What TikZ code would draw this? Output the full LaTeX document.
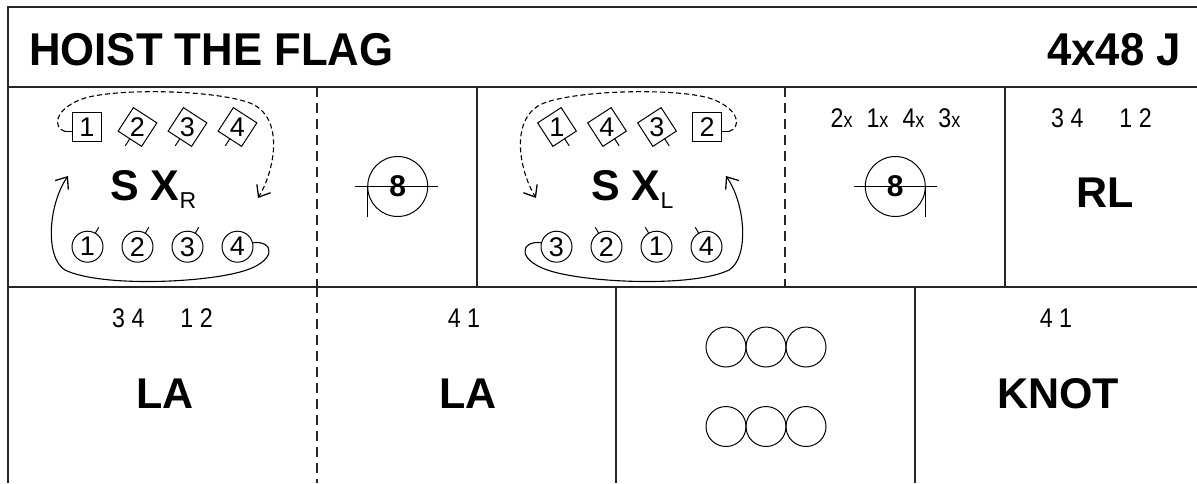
\documentclass[tikz,border=0pt]{standalone}
\usepackage{fontspec}
\setmainfont{Liberation Sans}
\newfontfamily\narrowfont[FakeStretch=0.86]{Liberation Sans}
\newfontfamily\titlefont[FakeStretch=0.95]{Liberation Sans}
\usetikzlibrary{arrows.meta,calc}
\begin{document}
\begin{tikzpicture}[x=1pt,y=-1pt,
  border/.style={line width=2pt,draw=black!85},
  sepline/.style={line width=1.5pt,draw=black!85},
  dsep/.style={sepline,dash pattern=on 10pt off 6pt},
  biglabel/.style={inner sep=0pt,font=\fontsize{43}{43}\selectfont\bfseries},
  countnum/.style={inner sep=0pt,font=\narrowfont\fontsize{27}{27}\selectfont},
  dignum/.style={inner sep=0pt,font=\fontsize{27}{27}\selectfont},
  man/.style={draw,line width=1pt,minimum size=29.5pt,inner sep=0pt,outer sep=0pt},
  tilt/.style={draw,line width=1pt,minimum size=28pt,inner sep=0pt,outer sep=0pt},
  lady/.style={circle,draw,line width=1pt,minimum size=31pt,inner sep=0pt,outer sep=0pt},
  tickline/.style={line width=1pt},
  dasharrow/.style={line width=1.1pt,dash pattern=on 5pt off 3pt,-{Straight Barb[length=10pt,width=16pt,line width=1.3pt]}},
  solidarrow/.style={line width=1.1pt,-{Straight Barb[length=10pt,width=16pt,line width=1.3pt]}},
  setc/.style={circle,draw,line width=1pt,minimum size=40pt,inner sep=0pt},
  reel/.style={circle,draw,line width=1pt,minimum size=60pt,inner sep=0pt,outer sep=0pt},
  eight/.style={inner sep=0pt,font=\fontsize{30}{30}\selectfont\bfseries},
]
\useasboundingbox (0,0) rectangle (1197,483);
\fill[white] (0,0) rectangle (1197,483);

% frame
\coordinate (tl) at (8,7);
\coordinate (tr) at (1197,7);
\coordinate (bl) at (8,483);
\draw[border] (bl) -- (tl) -- (tr);
\coordinate (h1a) at (8,87);   \coordinate (h1b) at (1197,87);
\coordinate (h2a) at (8,287);  \coordinate (h2b) at (1197,287);
\draw[border] (h1a) -- (h1b);
\draw[border] (h2a) -- (h2b);
% row 2 separators
\coordinate (v1a) at (317,87);  \coordinate (v1b) at (317,287);
\coordinate (v2a) at (477,87);  \coordinate (v2b) at (477,287);
\coordinate (v3a) at (785,87);  \coordinate (v3b) at (785,287);
\coordinate (v4a) at (1005,87); \coordinate (v4b) at (1005,287);
\draw[dsep] (v1a) -- (v1b);
\draw[sepline] (v2a) -- (v2b);
\draw[dsep] (v3a) -- (v3b);
\draw[sepline] (v4a) -- (v4b);
% row 3 separators
\coordinate (w1a) at (317,287); \coordinate (w1b) at (317,483);
\coordinate (w2a) at (616,287); \coordinate (w2b) at (616,483);
\coordinate (w3a) at (915,287); \coordinate (w3b) at (915,483);
\draw[dsep] (w1a) -- (w1b);
\draw[sepline] (w2a) -- (w2b);
\draw[sepline] (w3a) -- (w3b);

% title
\node[anchor=base west,inner sep=0pt,font=\titlefont\fontsize{46}{46}\selectfont\bfseries] (title) at (29,65) {HOIST THE FLAG};
\node[anchor=base east,inner sep=0pt,font=\titlefont\fontsize{46}{46}\selectfont\bfseries] (form) at (1181,65) {4x48 J};

% ---------- cell 1: S X_R ----------
\node[man,dignum] (a1) at (87,127) {1};
\node[tilt,rotate=-33] (a2) at (137.5,127) {};
\node[dignum] (a2t) at (a2.center) {2};
\node[tilt,rotate=-33] (a3) at (187.5,127) {};
\node[dignum] (a3t) at (a3.center) {3};
\node[tilt,rotate=-33] (a4) at (237.5,127) {};
\node[dignum] (a4t) at (a4.center) {4};
\coordinate (a1t0) at ($(a1.west)+(0,4.5)$);
\coordinate (a1t1) at ($(a1.west)+(-7,4.5)$);
\draw[tickline] (a1t0) -- (a1t1);
\draw[tickline] (a2.south) -- ($(a2.center)!1.6!(a2.south)$);
\draw[tickline] (a3.south) -- ($(a3.center)!1.6!(a3.south)$);
\draw[tickline] (a4.south) -- ($(a4.center)!1.6!(a4.south)$);
\coordinate (d1e) at (258,198);
\draw[dasharrow] (a1t1) .. controls (52,128) and (54,108) .. (85,98)
   .. controls (120,88) and (215,90) .. (250,103)
   .. controls (285,117) and (275,170) .. (d1e);

\node[lady,dignum] (b1) at (87.5,246.7) {1};
\node[lady,dignum] (b2) at (137.5,246.7) {2};
\node[lady,dignum] (b3) at (187.5,246.7) {3};
\node[lady,dignum] (b4) at (237.5,246.7) {4};
\draw[tickline] (b1.60) -- ($(b1.center)!1.45!(b1.60)$);
\draw[tickline] (b2.60) -- ($(b2.center)!1.45!(b2.60)$);
\draw[tickline] (b3.60) -- ($(b3.center)!1.45!(b3.60)$);
\coordinate (s1e) at (68,176);
\draw[solidarrow] (b4.15) .. controls (275,240) and (278,262) .. (240,272)
   .. controls (200,283) and (100,287) .. (65,270)
   .. controls (45,258) and (48,205) .. (s1e);

\node[biglabel,anchor=base west] (sxr) at (110,200) {S X\raisebox{-8pt}{\fontsize{23}{23}\selectfont\mdseries R}};

% ---------- cell 2: reel ----------
\node[reel] (r1) at (397.7,186.5) {};
\node[eight] (r1t) at (r1.center) {8};
\draw[tickline] ($(r1.center)+(-43,0)$) -- ($(r1.center)+(40,0)$);
\draw[tickline] (r1.west) -- ($(r1.west)+(0,30)$);

% ---------- cell 3: S X_L ----------
\node[tilt,rotate=33] (c1) at (557,127) {};
\node[dignum] (c1t) at (c1.center) {1};
\node[tilt,rotate=33] (c4) at (607,127) {};
\node[dignum] (c4t) at (c4.center) {4};
\node[tilt,rotate=33] (c3) at (657,127) {};
\node[dignum] (c3t) at (c3.center) {3};
\node[man,dignum] (c2) at (707,127) {2};
\draw[tickline] (c1.south) -- ($(c1.center)!1.6!(c1.south)$);
\draw[tickline] (c4.south) -- ($(c4.center)!1.6!(c4.south)$);
\draw[tickline] (c3.south) -- ($(c3.center)!1.6!(c3.south)$);
\coordinate (c2t0) at ($(c2.east)+(0,4.5)$);
\coordinate (c2t1) at ($(c2.east)+(7,4.5)$);
\draw[tickline] (c2t0) -- (c2t1);
\coordinate (d2e) at (536,198);
\draw[dasharrow] (c2t1) .. controls (742,128) and (740,108) .. (709,98)
   .. controls (674,88) and (579,90) .. (544,103)
   .. controls (509,117) and (519,170) .. (d2e);

\node[lady,dignum] (e3) at (556.5,246.7) {3};
\node[lady,dignum] (e2) at (606.5,246.7) {2};
\node[lady,dignum] (e1) at (656.5,246.7) {1};
\node[lady,dignum] (e4) at (706.5,246.7) {4};
\draw[tickline] (e2.120) -- ($(e2.center)!1.45!(e2.120)$);
\draw[tickline] (e1.120) -- ($(e1.center)!1.45!(e1.120)$);
\draw[tickline] (e4.120) -- ($(e4.center)!1.45!(e4.120)$);
\coordinate (s2e) at (726,176);
\draw[solidarrow] (e3.165) .. controls (519,240) and (516,262) .. (554,272)
   .. controls (594,283) and (694,287) .. (729,270)
   .. controls (749,258) and (746,205) .. (s2e);

\node[biglabel,anchor=base west] (sxl) at (591,200) {S X\raisebox{-8pt}{\fontsize{23}{23}\selectfont\mdseries L}};

% ---------- cell 4: reel with order ----------
\node[countnum,anchor=base] (ord) at (895.5,127) {2{\fontsize{21}{21}\selectfont x}\hspace{14pt}1{\fontsize{21}{21}\selectfont x}\hspace{14pt}4{\fontsize{21}{21}\selectfont x}\hspace{14pt}3{\fontsize{21}{21}\selectfont x}};
\node[reel] (r2) at (895.3,186.5) {};
\node[eight] (r2t) at (r2.center) {8};
\draw[tickline] ($(r2.center)+(-41,0)$) -- ($(r2.center)+(41.5,0)$);
\draw[tickline] (r2.east) -- ($(r2.east)+(0,30)$);

% ---------- cell 5: RL ----------
\node[countnum,anchor=base] (n5) at (1101.5,127) {3 4\hspace{36pt}1 2};
\node[biglabel,anchor=base] (rl) at (1105.5,207) {RL};

% ---------- row 3 ----------
\node[countnum,anchor=base] (n6) at (162.5,327) {3 4\hspace{36pt}1 2};
\node[biglabel,anchor=base] (la1) at (165,408) {LA};
\node[countnum,anchor=base] (n7) at (464,327) {4 1};
\node[biglabel,anchor=base] (la2) at (468,408) {LA};

\node[setc] (p1) at (726,347) {};
\node[setc] (p2) at (766,347) {};
\node[setc] (p3) at (806,347) {};
\node[setc] (p4) at (726,426.5) {};
\node[setc] (p5) at (766,426.5) {};
\node[setc] (p6) at (806,426.5) {};

\node[countnum,anchor=base] (n8) at (1056,327) {4 1};
\node[biglabel,anchor=base] (knot) at (1058,408) {KNOT};
\end{tikzpicture}
\end{document}
